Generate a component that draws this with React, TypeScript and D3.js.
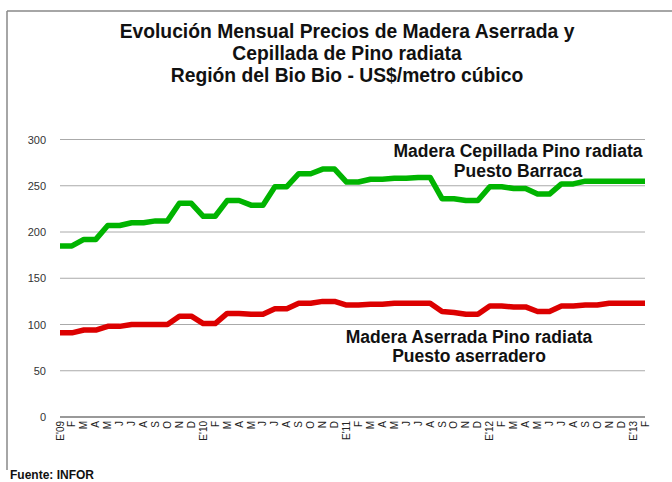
import React from "react";
import * as d3 from "d3";

const months = ["E'09","F","M","A","M","J","J","A","S","O","N","D",
  "E'10","F","M","A","M","J","J","A","S","O","N","D",
  "E'11","F","M","A","M","J","J","A","S","O","N","D",
  "E'12","F","M","A","M","J","J","A","S","O","N","D",
  "E'13","F"];

const cepillada = [185,185,192,192,207,207,210,210,212,212,231,231,
  217,217,234,234,229,229,249,249,263,263,268,268,
  254,254,257,257,258,258,259,259,236,236,234,234,
  249,249,247,247,241,241,252,252,255,255,255,255,
  255,255];

const aserrada = [91,91,94,94,98,98,100,100,100,100,109,109,
  101,101,112,112,111,111,117,117,123,123,125,125,
  121,121,122,122,123,123,123,123,114,113,111,111,
  120,120,119,119,114,114,120,120,121,121,123,123,
  123,123];

const yTicks = [0,50,100,150,200,250,300];

const titleLines = [
  "Evolución Mensual Precios de Madera Aserrada y",
  "Cepillada de Pino radiata",
  "Región del Bio Bio - US$/metro cúbico",
];

export default function App() {
  const W = 672, H = 482;
  const x = d3.scaleLinear().domain([0, months.length - 1]).range([60, 645]);
  const y = d3.scaleLinear().domain([0, 300]).range([417, 139.5]);
  const line = d3.line<number>().x((_, i) => x(i)).y(d => y(d));
  const font = "'Liberation Sans', Arial, sans-serif";

  return (
    <svg width={W} height={H} style={{ position: "absolute", left: 0, top: 0, background: "#fff" }} fontFamily={font}>
      <line x1={7} y1={11} x2={672} y2={11} stroke="#888" strokeWidth={1.5} />
      <line x1={7} y1={11} x2={7} y2={470} stroke="#888" strokeWidth={1.5} />
      {titleLines.map((t, i) => (
        <text key={i} x={347} y={38 + i * 22} textAnchor="middle" fontSize={19.3} fontWeight="bold" fill="#111">{t}</text>
      ))}
      {yTicks.map(t => (
        <g key={t}>
          <line x1={60} x2={645} y1={y(t)} y2={y(t)} stroke={t === 0 ? "#777" : "#aaa"} strokeWidth={t === 0 ? 1.5 : 1} />
          <text x={46} y={y(t) + 4} textAnchor="end" fontSize={11} fill="#333">{t}</text>
        </g>
      ))}
      {months.map((m, i) => (
        <text key={i} transform={`translate(${x(i) + 3.5},${421}) rotate(-90)`} textAnchor="end" fontSize={10} fill="#222">{m}</text>
      ))}
      <path d={line(cepillada) || ""} fill="none" stroke="#00b400" strokeWidth={5.5} strokeLinejoin="round" />
      <path d={line(aserrada) || ""} fill="none" stroke="#dc0000" strokeWidth={5.5} strokeLinejoin="round" />
      <text x={518} y={157} textAnchor="middle" fontSize={17.5} fontWeight="bold" fill="#111">Madera Cepillada Pino radiata</text>
      <text x={518} y={177} textAnchor="middle" fontSize={17.5} fontWeight="bold" fill="#111">Puesto Barraca</text>
      <text x={469} y={343} textAnchor="middle" fontSize={17.5} fontWeight="bold" fill="#111">Madera Aserrada Pino radiata</text>
      <text x={469} y={362} textAnchor="middle" fontSize={17.5} fontWeight="bold" fill="#111">Puesto aserradero</text>
      <text x={10} y={479} fontSize={12} fontWeight="bold" fill="#111">Fuente: INFOR</text>
    </svg>
  );
}
